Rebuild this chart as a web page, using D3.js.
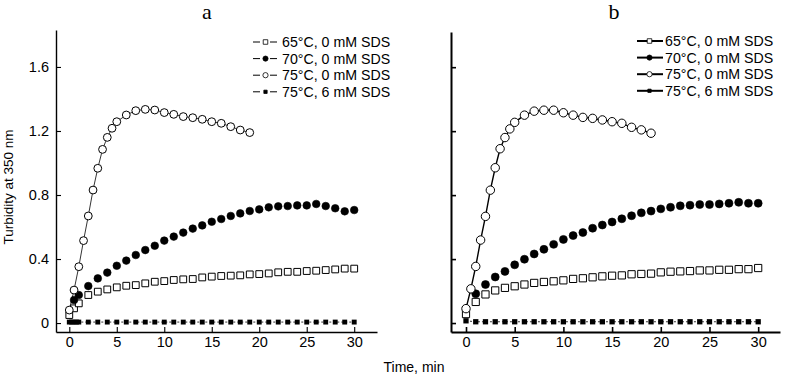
<!DOCTYPE html>
<html>
<head>
<meta charset="utf-8">
<script src="https://cdn.jsdelivr.net/npm/d3@7"></script>
<style>
  body { margin: 0; background: #fff; }
  svg { display: block; font-family: 'Liberation Sans', Arial, sans-serif; }
</style>
</head>
<body>
<svg id="chart" width="786" height="376"></svg>
<script>
// time points (min)
const minutes = [1,2,3,4,5,6,7,8,9,10,11,12,13,14,15,16,17,18,19,20,21,22,23,24,25,26,27,28,29,30];
const riseTimes = [0,0.5,1,1.5,2,2.5,3,3.5,4,4.5,5,6,7,8,9,10,11,12,13,14,15,16,17,18,19];

const seriesNames = ['65°C, 0 mM SDS', '70°C, 0 mM SDS', '75°C, 0 mM SDS', '75°C, 6 mM SDS'];
const yTicks = [0, 0.4, 0.8, 1.2, 1.6];
const xTicks = [0, 5, 10, 15, 20, 25, 30];

// panel a
const a65Times = [0, 0.5].concat(minutes);
const a65 = [0.05,0.092,0.123,0.175,0.196,0.21,0.223,0.233,0.237,0.248,0.258,0.262,0.269,0.273,0.275,0.285,0.29,0.294,0.296,0.298,0.304,0.306,0.31,0.317,0.32,0.32,0.325,0.327,0.331,0.335,0.34,0.34];
const a70Times = [0.5].concat(minutes);
const a70 = [0.144,0.175,0.231,0.279,0.315,0.358,0.39,0.425,0.456,0.483,0.515,0.54,0.565,0.59,0.61,0.633,0.65,0.669,0.685,0.70,0.71,0.723,0.729,0.731,0.735,0.735,0.744,0.731,0.717,0.698,0.706];
const a75 = [0.081,0.206,0.352,0.515,0.669,0.831,0.967,1.085,1.16,1.217,1.258,1.30,1.327,1.335,1.331,1.315,1.304,1.29,1.283,1.273,1.258,1.248,1.227,1.206,1.19];
const a6Times = [0, 0.25, 0.5, 0.75].concat(minutes);
const a6 = [0.006,0.006,0.006,0.006,0.006,0.006,0.006,0.006,0.006,0.006,0.006,0.006,0.006,0.006,0.006,0.006,0.006,0.006,0.006,0.006,0.006,0.006,0.006,0.006,0.006,0.006,0.006,0.006,0.006,0.006,0.006,0.006,0.006,0.006];

// panel b
const b65Times = [0].concat(minutes);
const b65 = [0.056,0.132,0.179,0.204,0.22,0.23,0.241,0.251,0.257,0.261,0.267,0.276,0.28,0.286,0.292,0.296,0.298,0.305,0.307,0.309,0.317,0.321,0.323,0.325,0.329,0.329,0.333,0.333,0.337,0.337,0.344];
const b70 = [0.183,0.241,0.288,0.323,0.364,0.399,0.432,0.461,0.492,0.523,0.547,0.566,0.593,0.613,0.632,0.652,0.671,0.689,0.70,0.714,0.724,0.733,0.737,0.741,0.741,0.745,0.749,0.755,0.749,0.749];
const b75 = [0.09,0.214,0.354,0.519,0.667,0.831,0.971,1.09,1.16,1.214,1.255,1.30,1.325,1.331,1.331,1.315,1.30,1.286,1.28,1.27,1.259,1.249,1.224,1.208,1.187];
const b6Times = [0].concat(minutes);
const b6 = [0.014,0.008,0.008,0.008,0.008,0.008,0.008,0.008,0.008,0.008,0.008,0.008,0.008,0.008,0.008,0.008,0.008,0.008,0.008,0.008,0.008,0.008,0.008,0.008,0.008,0.008,0.008,0.008,0.008,0.008,0.008];

const svg = d3.select('#chart');

function zip(ts, vs) { return ts.map((t, i) => ({ t: t, v: vs[i] })); }

// marker styles per series: 65 open square, 70 filled circle, 75 open circle, 6mM filled square
function markerStyle(k, big) {
  if (k === 0) return { type: d3.symbolSquare, size: big ? 52 : 46, fill: '#fff', stroke: 1 };
  if (k === 1) return { type: d3.symbolCircle, size: big ? 50 : 46, fill: '#000', stroke: 0.6 };
  if (k === 2) return { type: d3.symbolCircle, size: big ? 56 : 48, fill: '#fff', stroke: 1 };
  return { type: d3.symbolSquare, size: big ? 28 : 24, fill: '#000', stroke: 0 };
}

function drawPanel(opt) {
  const x = d3.scaleLinear().domain(opt.xDomain).range(opt.xRange);
  const y = d3.scaleLinear().domain(opt.yDomain).range(opt.yRange);
  const g = svg.append('g');

  // axes
  const yAxis = d3.axisLeft(y).tickValues(yTicks).tickSizeInner(-5).tickSizeOuter(0).tickPadding(7)
    .tickFormat(opt.labels ? (d => d) : () => '');
  const xAxis = d3.axisBottom(x).tickValues(xTicks).tickSizeInner(-5).tickSizeOuter(0).tickPadding(5);

  const ya = g.append('g').attr('transform', `translate(${opt.xRange[0]},0)`).call(yAxis);
  const xa = g.append('g').attr('transform', `translate(0,${opt.yRange[0]})`).call(xAxis);
  [ya, xa].forEach(a => {
    a.select('.domain').attr('stroke', '#000').attr('stroke-width', opt.axisW);
    a.selectAll('.tick line').attr('stroke', '#000').attr('stroke-width', opt.axisW * 0.8);
    a.selectAll('text').attr('font-size', '14.5px').attr('fill', '#000')
      .attr('font-family', "'Liberation Sans', Arial, sans-serif");
  });

  // connecting lines (75 °C series)
  const line = d3.line().x(d => x(d.t)).y(d => y(d.v));
  [opt.data[2], opt.data[3]].forEach((s, i) => {
    g.append('path').datum(s).attr('d', line).attr('fill', 'none')
      .attr('stroke', '#000').attr('stroke-width', i === 0 ? opt.lineW : 0.8)
      .attr('stroke-dasharray', i === 0 ? null : '2,2');
  });

  // markers
  opt.data.forEach((s, k) => {
    const m = markerStyle(k, opt.big);
    g.append('g').selectAll('path').data(s).enter().append('path')
      .attr('transform', d => `translate(${x(d.t)},${y(d.v)})`)
      .attr('d', d3.symbol().type(m.type).size(m.size))
      .attr('fill', m.fill).attr('stroke', '#000').attr('stroke-width', m.stroke);
  });

  // legend
  const leg = g.append('g');
  seriesNames.forEach((name, k) => {
    const ly = opt.legY + k * 16.6;
    const m = markerStyle(k, false);
    const lx = opt.legX;
    if (opt.legSolid) {
      leg.append('line').attr('x1', lx).attr('x2', lx + 26).attr('y1', ly).attr('y2', ly)
        .attr('stroke', '#000').attr('stroke-width', 2);
    } else {
      leg.append('line').attr('x1', lx).attr('x2', lx + 7).attr('y1', ly).attr('y2', ly)
        .attr('stroke', '#000').attr('stroke-width', 1);
      leg.append('line').attr('x1', lx + 17).attr('x2', lx + 24).attr('y1', ly).attr('y2', ly)
        .attr('stroke', '#000').attr('stroke-width', 1);
    }
    leg.append('path').attr('transform', `translate(${lx + 12.5},${ly})`)
      .attr('d', d3.symbol().type(m.type).size(m.size * 0.45))
      .attr('fill', m.fill).attr('stroke', '#000').attr('stroke-width', 0.8);
    leg.append('text').attr('x', opt.legTextX).attr('y', ly + 5).attr('font-size', '14.2px')
      .attr('fill', '#000').text(name);
  });

  // panel letter
  g.append('text').attr('x', opt.letterX).attr('y', 19).attr('text-anchor', 'middle')
    .attr('font-family', "'Liberation Serif', 'Times New Roman', serif").attr('font-size', '22px')
    .text(opt.letter);
}

drawPanel({
  xDomain: [-1.4, 32.4], xRange: [56, 377],
  yDomain: [-0.056, 1.831], yRange: [332, 30],
  labels: true, axisW: 1.4, lineW: 0.8, big: false,
  data: [zip(a65Times, a65), zip(a70Times, a70), zip(riseTimes, a75), zip(a6Times, a6)],
  legX: 253, legTextX: 282, legY: 42, legSolid: false,
  letter: 'a', letterX: 207
});

drawPanel({
  xDomain: [-1.54, 32.24], xRange: [451, 780],
  yDomain: [-0.056, 1.82], yRange: [332, 32],
  labels: false, axisW: 2, lineW: 1.4, big: true,
  data: [zip(b65Times, b65), zip(minutes, b70), zip(riseTimes, b75), zip(b6Times, b6)],
  legX: 637, legTextX: 665, legY: 41, legSolid: true,
  letter: 'b', letterX: 614
});

// shared axis titles
svg.append('text').attr('x', 414).attr('y', 372).attr('text-anchor', 'middle')
  .attr('font-size', '14px').text('Time, min');
svg.append('text').attr('transform', 'translate(13,187) rotate(-90)').attr('text-anchor', 'middle')
  .attr('font-size', '13.5px').text('Turbidity at 350 nm');
</script>
</body>
</html>
